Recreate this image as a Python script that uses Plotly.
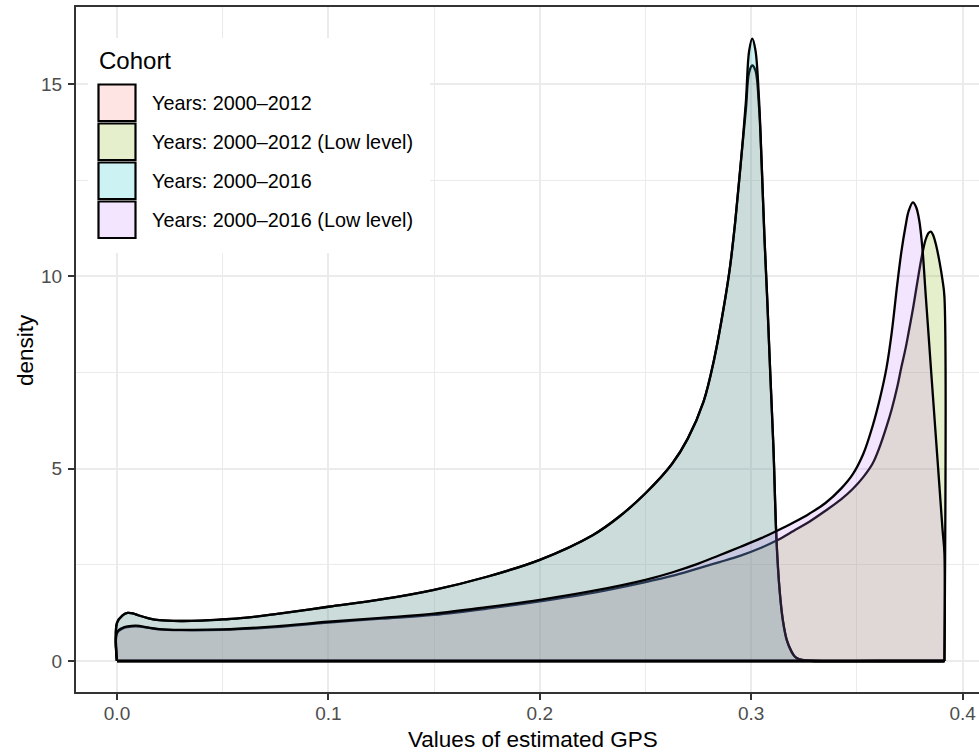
import plotly.graph_objects as go

# ---------------- data ----------------
COHORTS = ["Years: 2000\u20132012", "Years: 2000\u20132012 (Low level)",
           "Years: 2000\u20132016", "Years: 2000\u20132016 (Low level)"]
COLORS = ["#F8766D", "#7CAE00", "#00BFC4", "#C77CFF"]

X_EARLY = [0, 0.0025, 0.005, 0.0075, 0.01, 0.015, 0.02, 0.03, 0.04, 0.05,
           0.06, 0.075, 0.1, 0.125, 0.15, 0.175, 0.2, 0.225, 0.2375, 0.25,
           0.2625, 0.27, 0.2775, 0.2825, 0.2875, 0.29, 0.2925, 0.295, 0.2975, 0.299,
           0.3005, 0.302, 0.3037, 0.305, 0.3062, 0.3076, 0.309, 0.3105, 0.312, 0.3135,
           0.315, 0.3168, 0.319, 0.3207, 0.3225, 0.325, 0.33, 0.36, 0.3914]
Y_2016 = [0.99, 1.18, 1.25, 1.24, 1.19, 1.11, 1.06, 1.04, 1.05, 1.08,
          1.12, 1.22, 1.41, 1.60, 1.85, 2.19, 2.63, 3.27, 3.75, 4.36,
          5.12, 5.78, 6.75, 7.85, 9.35, 10.25, 11.45, 12.9, 14.55, 15.85,
          16.18, 15.88, 14.6, 12.85, 11.1, 9.38, 7.5, 5.57, 3.1, 1.8,
          1.05, 0.55, 0.25, 0.11, 0.05, 0.02, 0.0, 0.0, 0.0]
Y_2012 = [0.99, 1.18, 1.25, 1.24, 1.19, 1.11, 1.06, 1.04, 1.05, 1.08,
          1.12, 1.22, 1.41, 1.60, 1.85, 2.19, 2.63, 3.27, 3.75, 4.36,
          5.12, 5.78, 6.75, 7.85, 9.35, 10.25, 11.45, 12.9, 14.35, 15.3,
          15.48, 15.35, 14.4, 12.85, 11.1, 9.38, 7.5, 5.57, 3.1, 1.8,
          1.05, 0.55, 0.25, 0.11, 0.05, 0.02, 0.0, 0.0, 0.0]

X_LATE = [0, 0.0025, 0.005, 0.009, 0.015, 0.02, 0.03, 0.05, 0.075, 0.1,
          0.125, 0.15, 0.175, 0.2, 0.225, 0.25, 0.2625, 0.275, 0.285, 0.295,
          0.305, 0.312, 0.32, 0.3275, 0.335, 0.3425, 0.348, 0.353, 0.3575, 0.361,
          0.364, 0.3665, 0.369, 0.371, 0.373, 0.3745, 0.3765, 0.378, 0.3795, 0.381,
          0.3825, 0.384, 0.385, 0.386, 0.3875, 0.389, 0.3905, 0.3914]
Y_2016_LOW = [0.75, 0.86, 0.90, 0.92, 0.87, 0.83, 0.81, 0.82, 0.90, 1.02,
              1.12, 1.23, 1.40, 1.59, 1.82, 2.11, 2.30, 2.53, 2.75, 2.97,
              3.20, 3.38, 3.60, 3.83, 4.10, 4.48, 4.85, 5.38, 6.12, 6.85,
              7.62, 8.55, 9.75, 10.62, 11.30, 11.70, 11.92, 11.80, 11.45, 10.72,
              9.55, 8.40, 7.62, 6.86, 5.71, 4.57, 3.42, 2.80]
Y_2012_LOW = [0.72, 0.84, 0.88, 0.90, 0.86, 0.82, 0.80, 0.81, 0.88, 1.00,
              1.10, 1.20, 1.36, 1.55, 1.77, 2.05, 2.21, 2.41, 2.57, 2.74,
              2.95, 3.13, 3.38, 3.62, 3.90, 4.20, 4.47, 4.78, 5.14, 5.60,
              6.09, 6.55, 7.10, 7.63, 8.12, 8.55, 9.15, 9.65, 10.15, 10.60,
              10.95, 11.13, 11.16, 11.08, 10.80, 10.40, 9.90, 9.47]

SERIES = [(X_EARLY, Y_2012), (X_LATE, Y_2012_LOW), (X_EARLY, Y_2016), (X_LATE, Y_2016_LOW)]

X_TICKS = [0.0, 0.1, 0.2, 0.3, 0.4]
X_TICKTEXT = ["0.0", "0.1", "0.2", "0.3", "0.4"]
Y_TICKS = [0, 5, 10, 15]
Y_TICKTEXT = ["0", "5", "10", "15"]

# ---------------- layout geometry ----------------
W, H = 979, 753
L, R, T, B = 76, 0, 7, 61
PW, PH = W - L - R, H - T - B
FONT = "Liberation Sans, Arial, Helvetica, sans-serif"
LW = 2.3


def rgba(hexc, a):
    hexc = hexc.lstrip("#")
    r, g, b = int(hexc[0:2], 16), int(hexc[2:4], 16), int(hexc[4:6], 16)
    return f"rgba({r},{g},{b},{a})"


def pxx(x):
    return (x - L) / PW


def pxy(y):
    return (H - B - y) / PH


fig = go.Figure()
for name, col, (xs, ys) in zip(COHORTS, COLORS, SERIES):
    px_ = [xs[0]] + list(xs) + [xs[-1]]
    py_ = [0] + list(ys) + [0]
    fig.add_trace(go.Scatter(
        x=px_, y=py_, mode="lines", fill="tozeroy",
        fillcolor=rgba(col, 0.2),
        line=dict(color="black", width=LW, shape="spline", smoothing=1.0),
        name=name, showlegend=False, hoverinfo="skip",
    ))
    # bottom edge of the density polygon
    fig.add_trace(go.Scatter(
        x=[xs[0], xs[-1]], y=[0, 0], mode="lines",
        line=dict(color="black", width=LW),
        showlegend=False, hoverinfo="skip",
    ))

shapes = []
annotations = []

# legend (drawn manually, ggplot style)
shapes.append(dict(type="rect", xref="paper", yref="paper",
                   x0=pxx(88), x1=pxx(430), y0=pxy(253), y1=pxy(38),
                   fillcolor="white", line=dict(width=0), layer="above"))
annotations.append(dict(text="Cohort", xref="paper", yref="paper",
                        x=pxx(97), y=pxy(61), xanchor="left", yanchor="middle",
                        showarrow=False, font=dict(family=FONT, size=24, color="black")))
for i, (name, col) in enumerate(zip(COHORTS, COLORS)):
    top = 84.5 + 39 * i
    shapes.append(dict(type="rect", xref="paper", yref="paper",
                       x0=pxx(98.5), x1=pxx(135.5), y0=pxy(top + 36.5), y1=pxy(top),
                       fillcolor=rgba(col, 0.2), line=dict(color="black", width=2.2),
                       layer="above"))
    annotations.append(dict(text=name, xref="paper", yref="paper",
                            x=pxx(150), y=pxy(top + 18.5), xanchor="left", yanchor="middle",
                            showarrow=False, font=dict(family=FONT, size=19.8, color="black")))

# axis titles
annotations.append(dict(text="Values of estimated GPS", xref="paper", yref="paper",
                        x=pxx(533), y=pxy(739), xanchor="center", yanchor="middle",
                        showarrow=False, font=dict(family=FONT, size=22.5, color="black")))
annotations.append(dict(text="density", xref="paper", yref="paper",
                        x=pxx(25), y=pxy(350), xanchor="center", yanchor="middle",
                        textangle=-90, showarrow=False,
                        font=dict(family=FONT, size=22.5, color="black")))

fig.update_layout(
    width=W, height=H,
    margin=dict(l=L, r=R, t=T, b=B, pad=0),
    paper_bgcolor="white", plot_bgcolor="white",
    showlegend=False,
    shapes=shapes, annotations=annotations,
    font=dict(family=FONT),
)
fig.update_xaxes(
    range=[(L - 117) / 2114, (W - R - 117) / 2114],
    tickvals=X_TICKS, ticktext=X_TICKTEXT,
    showgrid=True, gridcolor="#EBEBEB", gridwidth=2,
    minor=dict(dtick=0.05, tick0=0, showgrid=True, gridcolor="#EBEBEB", gridwidth=1, ticks=""),
    showline=True, linecolor="#333333", linewidth=2, mirror=True,
    ticks="outside", ticklen=6, tickcolor="#333333", tickwidth=2,
    tickfont=dict(family=FONT, size=19, color="#4D4D4D"),
    ticklabelstandoff=-3,
    zeroline=False,
)
fig.update_yaxes(
    range=[(661 - 692) / 38.47, (661 - 7) / 38.47],
    tickvals=Y_TICKS, ticktext=Y_TICKTEXT,
    showgrid=True, gridcolor="#EBEBEB", gridwidth=2,
    minor=dict(dtick=2.5, tick0=0, showgrid=True, gridcolor="#EBEBEB", gridwidth=1, ticks=""),
    showline=True, linecolor="#333333", linewidth=2, mirror=False,
    ticks="outside", ticklen=6, tickcolor="#333333", tickwidth=2,
    tickfont=dict(family=FONT, size=19, color="#4D4D4D"),
    ticklabelstandoff=2,
    zeroline=False,
)

fig.write_html("out.html")
